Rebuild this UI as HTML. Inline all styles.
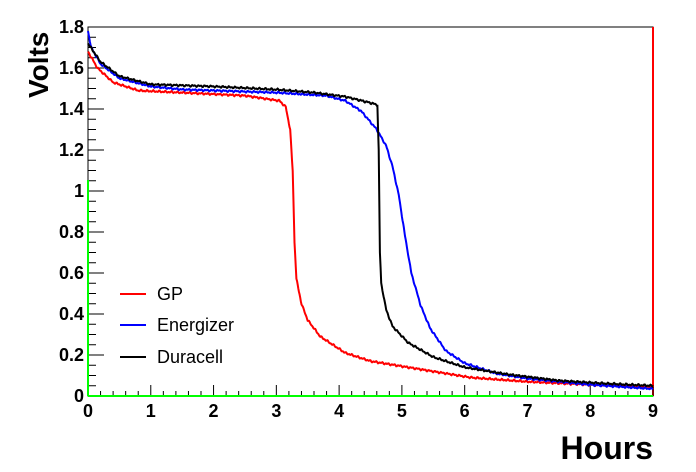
<!DOCTYPE html><html><head><style>body{margin:0;background:#fff}svg{display:block}text{font-family:"Liberation Sans",Arial,sans-serif}</style></head><body>
<svg id="s" width="696" height="472" xmlns="http://www.w3.org/2000/svg">
<rect x="88" y="27" width="565" height="369" fill="none" stroke="#000" stroke-width="1"/>
<line x1="653" y1="27" x2="653" y2="396" stroke="#f00" stroke-width="2"/>
<g id="ticks" stroke="#000" stroke-width="1"></g>
<line x1="88" y1="396" x2="653" y2="396" stroke="#0f0" stroke-width="2"/>
<line x1="88" y1="180" x2="88" y2="396" stroke="#0f0" stroke-width="2"/>
<g id="lbl" font-size="18" font-weight="bold" fill="#000"></g>
<g id="curves" fill="none" stroke-width="2"></g>
<text x="653" y="459" font-size="32" font-weight="bold" text-anchor="end">Hours</text>
<text transform="translate(48,98) rotate(-90)" font-size="28" font-weight="bold">Volts</text>
<line x1="120" y1="294" x2="146" y2="294" stroke="#f00" stroke-width="2"/>
<text x="157" y="300" font-size="18">GP</text>
<line x1="120" y1="325" x2="146" y2="325" stroke="#00f" stroke-width="2"/>
<text x="157" y="331" font-size="18">Energizer</text>
<line x1="120" y1="357" x2="146" y2="357" stroke="#000" stroke-width="2"/>
<text x="157" y="363" font-size="18">Duracell</text>
</svg>
<script>
var X=t=>88+t*62.78,Y=v=>396-v*205;
var tk=document.getElementById('ticks'),lb=document.getElementById('lbl'),h='',l='';
for(var i=0;i<=36;i++){var v=i*0.05,y=Y(v),L=(i%4==0)?16:8;h+=`<line x1="88" y1="${y}" x2="${88+L}" y2="${y}"/>`;
if(i%4==0){l+=`<text x="84" y="${y+6}" text-anchor="end">${+(v.toFixed(1))}</text>`;}}
for(var i=0;i<=45;i++){var t=i*0.2,x=X(t),L=(i%5==0)?11:5;h+=`<line x1="${x}" y1="396" x2="${x}" y2="${396-L}"/>`;
if(i%5==0)l+=`<text x="${x}" y="417" text-anchor="middle">${i/5}</text>`;}
tk.innerHTML=h;lb.innerHTML=l;
function curve(pts,col,n){var d='';
for(var t=0;t<=9;t+=0.01){var j=0;while(j<pts.length-2&&pts[j+1][0]<t)j++;var a=pts[j],b=pts[j+1];var f=(t-a[0])/(b[0]-a[0]);f=Math.max(0,Math.min(1,f));
var v=a[1]+(b[1]-a[1])*f;v+=(Math.sin(t*97.3+n)*Math.sin(t*31.7)*0.005);
d+=(d?'L':'M')+X(t).toFixed(1)+','+Y(v).toFixed(1);}
return `<path d="${d}" stroke="${col}"/>`;}
var gp=[[0,1.68],[0.15,1.6],[0.4,1.53],[0.8,1.49],[1.5,1.48],[2.5,1.465],[3.05,1.44],[3.15,1.41],[3.22,1.3],[3.26,1.1],[3.29,0.75],[3.32,0.57],[3.4,0.45],[3.5,0.37],[3.7,0.29],[4.1,0.21],[4.5,0.17],[5,0.145],[5.5,0.12],[6.1,0.09],[7,0.07],[8,0.055],[9,0.045]];
var en=[[0,1.78],[0.05,1.7],[0.2,1.62],[0.5,1.55],[1,1.51],[1.5,1.495],[3,1.48],[3.8,1.465],[4.1,1.44],[4.35,1.39],[4.6,1.3],[4.75,1.22],[4.85,1.12],[4.95,0.98],[5.05,0.78],[5.15,0.6],[5.3,0.44],[5.45,0.33],[5.7,0.22],[6,0.16],[6.5,0.11],[7,0.085],[8,0.055],[9,0.035]];
var du=[[0,1.72],[0.2,1.63],[0.5,1.56],[1,1.52],[2,1.51],[3,1.495],[3.6,1.48],[4.1,1.46],[4.5,1.43],[4.61,1.42],[4.63,1.2],[4.65,0.7],[4.67,0.55],[4.75,0.42],[4.85,0.34],[5.1,0.26],[5.5,0.19],[6,0.14],[6.7,0.105],[7.5,0.075],[8.3,0.06],[9,0.05]];
document.getElementById('curves').innerHTML=curve(gp,'#f00',1)+curve(en,'#00f',2)+curve(du,'#000',3);
</script></body></html>
